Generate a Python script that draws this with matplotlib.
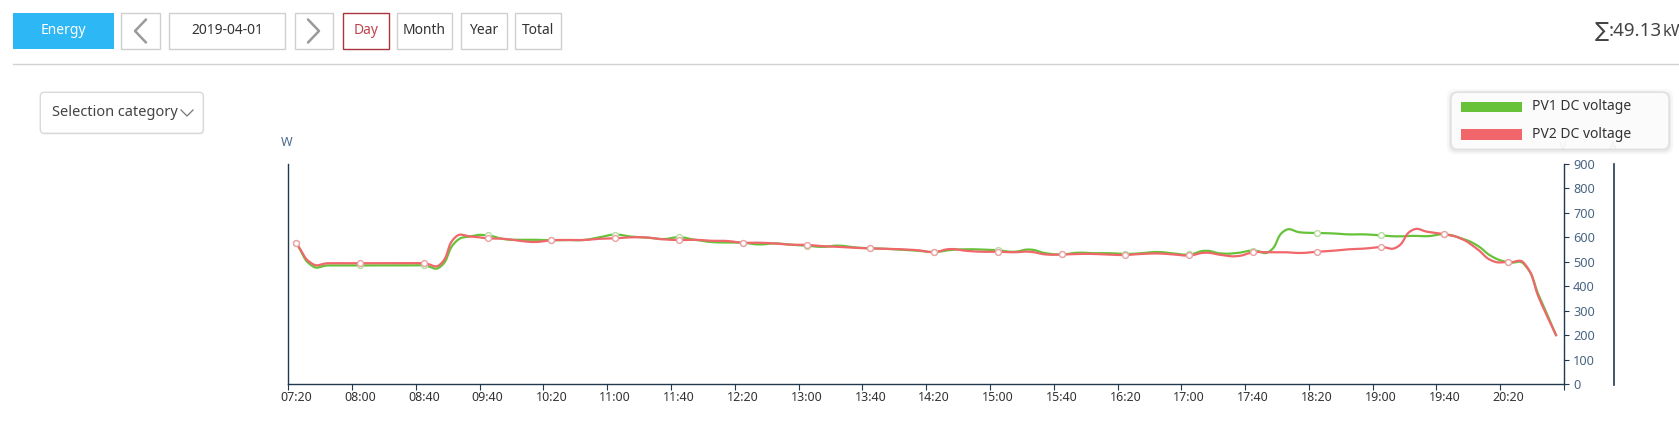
import matplotlib
matplotlib.use('Agg')
import matplotlib.pyplot as plt
from matplotlib.patches import Rectangle, FancyBboxPatch
import numpy as np

W, H = 1679, 429
plt.rcParams['font.family'] = ['Noto Sans', 'DejaVu Sans']

GREEN = '#67C23A'
RED = '#F0666B'
AXIS = '#22384f'

# every 4th category carries a label
tick_labels = ['07:20', '08:00', '08:40', '09:40', '10:20', '11:00', '11:40',
               '12:20', '13:00', '13:40', '14:20', '15:00', '15:40', '16:20',
               '17:00', '17:40', '18:20', '19:00', '19:40', '20:20']

pv1_voltage = [575, 483, 485, 485, 485, 485, 485, 485, 485, 478,
               582, 605, 608, 593, 590, 590, 588, 589, 589, 600,
               611, 603, 599, 593, 600, 590, 581, 579, 578, 571,
               575, 570, 566, 561, 566, 559, 555, 553, 549, 545,
               540, 548, 551, 550, 547, 541, 550, 535, 530, 537,
               535, 535, 532, 535, 540, 534, 530, 545, 534, 536,
               546, 541, 628, 620, 618, 616, 612, 612, 608, 604,
               606, 605, 612, 597, 569, 521, 498, 490, 350, 200]

pv2_voltage = [575, 492, 494, 494, 494, 494, 494, 494, 494, 488,
               602, 603, 596, 594, 586, 581, 588, 589, 589, 594,
               596, 600, 599, 592, 589, 590, 586, 585, 578, 578,
               575, 570, 569, 564, 561, 557, 555, 553, 551, 547,
               540, 552, 545, 541, 541, 539, 541, 530, 530, 532,
               532, 529, 528, 532, 534, 530, 526, 537, 528, 523,
               538, 539, 539, 536, 541, 545, 551, 554, 560, 559,
               630, 622, 612, 596, 555, 504, 498, 494, 341, 200]

y_ticks = [0, 100, 200, 300, 400, 500, 600, 700, 800, 900]

fig = plt.figure(figsize=(W / 100, H / 100), dpi=100)


def rect(x0, y0, x1, y1):
    # pixel box (origin top-left) -> figure fraction
    return [x0 / W, 1 - y1 / H, (x1 - x0) / W, (y1 - y0) / H]


def smooth_line(xs, ys, smooth=0.5, sx=15.95, sy=220 / 900):
    # bezier smoothing like echarts' smooth:true, done in screen-ish units
    P = np.column_stack([np.asarray(xs, float) * sx, np.asarray(ys, float) * sy])
    n = len(P)
    cps = []
    for i in range(n):
        prev = P[max(i - 1, 0)]
        nxt = P[min(i + 1, n - 1)]
        v = (nxt - prev) * smooth
        d0 = np.linalg.norm(P[i] - prev)
        d1 = np.linalg.norm(P[i] - nxt)
        tot = d0 + d1
        a, b = (d0 / tot, d1 / tot) if tot else (0, 0)
        cps.append((P[i] - v * a, P[i] + v * b))
    t = np.linspace(0, 1, 14)[:, None]
    segs = []
    for i in range(n - 1):
        p0, c1, c2, p3 = P[i], cps[i][1], cps[i + 1][0], P[i + 1]
        seg = (1 - t) ** 3 * p0 + 3 * (1 - t) ** 2 * t * c1 + 3 * (1 - t) * t ** 2 * c2 + t ** 3 * p3
        segs.append(seg if i == 0 else seg[1:])
    pts = np.vstack(segs)
    return pts[:, 0] / sx, pts[:, 1] / sy


# ---- main chart
ax = fig.add_axes(rect(288.3, 164, 1564, 384))
x = np.arange(len(pv1_voltage))
for vals, col, mec, z in [(pv1_voltage, GREEN, '#b9dca0', 3), (pv2_voltage, RED, '#eaa2a4', 4)]:
    sx_, sy_ = smooth_line(x, vals)
    ax.plot(sx_, sy_, color=col, lw=1.6, zorder=z, solid_joinstyle='round')
    ax.plot(x[::4], np.asarray(vals)[::4], 'o', mfc='white', mec=mec, ms=4.2, mew=1, zorder=z + 2)
ax.set_xlim(-0.5, len(x) - 0.5)
ax.set_ylim(0, 900)

ax.set_xticks(np.arange(-0.5, len(x), 4))
ax.set_xticklabels([])
ax.set_xticks(np.arange(0, len(x), 4), minor=True)
ax.set_xticklabels(tick_labels, minor=True)
ax.tick_params(axis='x', which='major', direction='out', length=4, color=AXIS)
ax.tick_params(axis='x', which='minor', length=0, pad=5, labelsize=9, labelcolor='#333333')

ax.yaxis.tick_right()
ax.set_yticks(y_ticks)
ax.tick_params(axis='y', direction='out', length=3.5, color=AXIS, pad=3,
               labelsize=9.2, labelcolor='#4a6583')

for side in ['left', 'right', 'bottom']:
    ax.spines[side].set_color(AXIS)
    ax.spines[side].set_linewidth(1)
ax.spines['top'].set_visible(False)

# ---- page decorations in pixel coordinates
ov = fig.add_axes([0, 0, 1, 1])
ov.set_xlim(0, W)
ov.set_ylim(H, 0)
ov.axis('off')

ov.add_patch(Rectangle((12.8, 13), 100.7, 36, fc='#2DB7F5', ec='none'))
ov.text(63, 31, 'Energy', color='white', fontsize=10, weight='bold', ha='center', va='center')

boxes = [(121, 159.5, '', '#cfcfcf', '#333333'),
         (169, 285, '2019-04-01', '#cfcfcf', '#333333'),
         (294.5, 333, '', '#cfcfcf', '#333333'),
         (342.7, 388.7, 'Day', '#a8353c', '#c0444d'),
         (397, 452, 'Month', '#cfcfcf', '#333333'),
         (460.5, 506.5, 'Year', '#cfcfcf', '#333333'),
         (515, 561, 'Total', '#cfcfcf', '#333333')]
for x0, x1, label, ec, tc in boxes:
    ov.add_patch(Rectangle((x0, 13), x1 - x0, 36, fc='white', ec=ec, lw=1))
    if label:
        ov.text((x0 + x1) / 2, 31, label, color=tc, fontsize=10, ha='center', va='center')

ov.plot([146, 135, 146], [19.5, 31, 42.5], color='#9a9a9a', lw=1.8, solid_capstyle='round')
ov.plot([308, 319, 308], [19.5, 31, 42.5], color='#9a9a9a', lw=1.8, solid_capstyle='round')

ov.plot([13, W], [64, 64], color='#d2d2d2', lw=1)

# total, runs off the right edge like the page does
t_sig = ov.text(1595, 31, '∑', color='#444444', fontsize=15, ha='left', va='center',
                family=['DejaVu Sans'])
t_num = ov.annotate(':49.13', xy=(1, 0.5), xycoords=t_sig, color='#444444', fontsize=13.5,
                    ha='left', va='center')
ov.annotate('kW', xy=(1, 0), xycoords=t_num, color='#444444', fontsize=12,
            ha='left', va='bottom')

# selection dropdown
ov.add_patch(FancyBboxPatch((41.3, 93.8), 163, 41, boxstyle='round,pad=0,rounding_size=4',
                            fc='#000000', ec='none', alpha=0.05))
ov.add_patch(FancyBboxPatch((40.3, 92.3), 163, 41, boxstyle='round,pad=0,rounding_size=4',
                            fc='white', ec='#d9d9d9', lw=1))
ov.text(52, 113, 'Selection category', color='#444444', fontsize=10.5, ha='left', va='center')
ov.plot([181, 187, 193], [110, 116, 110], color='#777777', lw=0.9)

# axis names
ov.text(287, 142, 'W', color='#4b6a8c', fontsize=9, ha='center', va='center')
ov.text(1563, 146, 'V', color='#9aabbd', fontsize=9, ha='center', va='center', zorder=1)
ov.text(1613, 147, 'A', color='#9aabbd', fontsize=9, ha='center', va='center', zorder=1)
ov.plot([1614, 1614], [164, 385], color=AXIS, lw=1.2)

# legend box
for grow, a in [(4, 0.03), (2, 0.05)]:
    ov.add_patch(FancyBboxPatch((1451 - grow, 92.3 - grow + 1), 218 + 2 * grow, 57 + 2 * grow,
                                boxstyle='round,pad=0,rounding_size=8', fc='black', ec='none',
                                alpha=a, zorder=4))
ov.add_patch(FancyBboxPatch((1451, 92.3), 218, 57, boxstyle='round,pad=0,rounding_size=7',
                            fc='white', ec='#dcdcdc', lw=1, alpha=0.85, zorder=5))
ov.add_patch(Rectangle((1460.7, 101.7), 61, 10.6, fc=GREEN, ec='none', zorder=6))
ov.add_patch(Rectangle((1460.7, 129.3), 61, 10.6, fc=RED, ec='none', zorder=6))
ov.text(1532, 106.5, 'PV1 DC voltage', color='#333333', fontsize=10, va='center', zorder=6)
ov.text(1532, 134.5, 'PV2 DC voltage', color='#333333', fontsize=10, va='center', zorder=6)

fig.savefig('out.png', dpi=100, facecolor='white')
